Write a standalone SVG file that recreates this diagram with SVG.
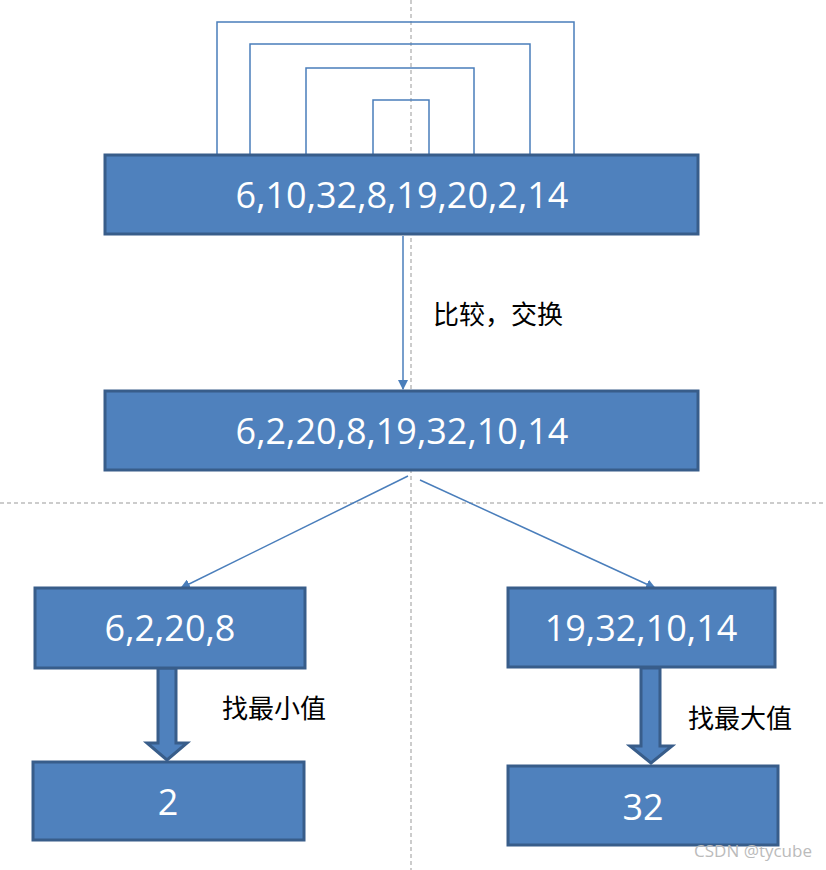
<svg xmlns="http://www.w3.org/2000/svg" width="826" height="870" viewBox="0 0 826 870">
<style>
.box{fill:#4f81bd;stroke:#385d8a;stroke-width:3}
.t{font-family:"Open Sans","Noto Sans",sans-serif;font-size:36px;fill:#fff;text-anchor:middle}
.c{font-family:"Noto Sans CJK SC",serif;font-size:26px;fill:#000}
.ln{fill:none;stroke:#4a7ebb;stroke-width:1.5}
.g{stroke:#999;stroke-width:1;stroke-dasharray:4,3}
.fat{fill:#4f81bd;stroke:#385d8a;stroke-width:3}
</style>
<defs><marker id="a" markerWidth="10" markerHeight="10" refX="9" refY="5" orient="auto" markerUnits="userSpaceOnUse"><path d="M0,0 L10,5 L0,10 z" fill="#4a7ebb"/></marker></defs>
<rect width="826" height="870" fill="#fff"/>
<g id="guides"><line class="g" x1="411" y1="0" x2="411" y2="870"/><line class="g" x1="0" y1="503" x2="826" y2="503"/></g>
<g id="connectors">
<path class="ln" d="M217,156V22H574V156M250,156V44H530V156M306,156V68H474V156M373,156V100H429V156"/>
<line class="ln" x1="403" y1="236" x2="403" y2="389" marker-end="url(#a)"/>
<line class="ln" x1="408" y1="476" x2="181" y2="588" marker-end="url(#a)"/>
<line class="ln" x1="420" y1="480" x2="655" y2="588" marker-end="url(#a)"/>
<path class="fat" d="M158,668V743H147L167,760L187,743H176V668Z"/>
<path class="fat" d="M641,668V746H630L651,763L672,746H660V668Z"/>
</g>
<g id="n1"><rect class="box" x="105" y="155" width="593" height="79"/><text class="t" x="402" y="208">6,10,32,8,19,20,2,14</text></g>
<g id="n2"><rect class="box" x="105" y="391" width="593" height="79"/><text class="t" x="402" y="444">6,2,20,8,19,32,10,14</text></g>
<g id="n3"><rect class="box" x="35" y="588" width="270" height="80"/><text class="t" x="170" y="641">6,2,20,8</text></g>
<g id="n4"><rect class="box" x="508" y="588" width="267" height="79"/><text class="t" x="641" y="641">19,32,10,14</text></g>
<g id="n5"><rect class="box" x="33" y="762" width="271" height="78"/><text class="t" x="168" y="815">2</text></g>
<g id="n6"><rect class="box" x="508" y="766" width="270" height="79"/><text class="t" x="643" y="820">32</text></g>
<text class="c" x="433" y="324">比较，交换</text>
<text class="c" x="222" y="718">找最小值</text>
<text class="c" x="688" y="728">找最大值</text>
<text x="812" y="857" font-family="Open Sans,sans-serif" font-size="17" fill="#bbb" text-anchor="end">CSDN @tycube</text>
</svg>
